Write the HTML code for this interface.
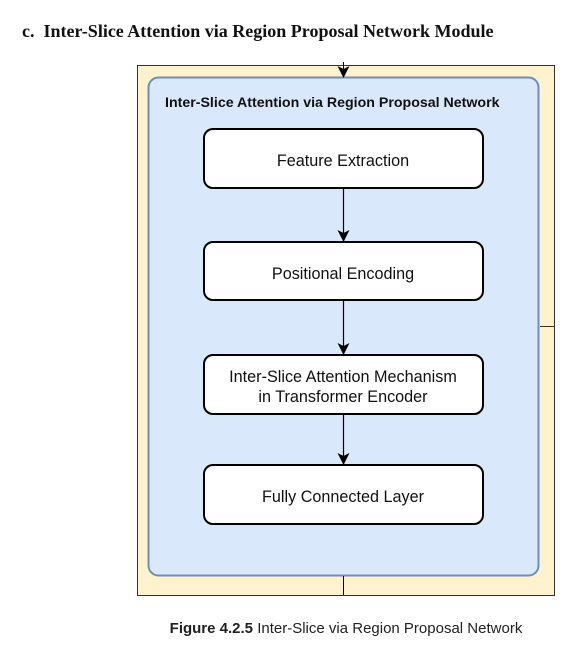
<!DOCTYPE html>
<html><head><style>
body{margin:0;background:#fff;width:588px;height:654px;position:relative;overflow:hidden;font-family:"Liberation Sans",sans-serif}
.t{position:absolute;left:22px;top:21px;font-family:"Liberation Serif",serif;font-weight:bold;font-size:18px;color:#111;white-space:nowrap}
.cap{position:absolute;left:0;width:692px;text-align:center;top:620px;font-size:15px;color:#222;white-space:nowrap}
</style></head><body>
<div class="t">c.&nbsp; Inter-Slice Attention via Region Proposal Network Module</div>
<svg width="588" height="654" style="position:absolute;left:0;top:0" font-family="Liberation Sans, sans-serif">
<defs><marker id="a" markerWidth="12" markerHeight="12" refX="11" refY="6" orient="auto" markerUnits="userSpaceOnUse"><path d="M0,0 L12,6 L0,12 L3,6z" fill="#000"/></marker></defs>
<rect x="137.5" y="65.5" width="417" height="530" fill="#fff2cc" stroke="#333" stroke-width="1"/>
<line x1="540" y1="326.5" x2="555" y2="326.5" stroke="#333"/>
<rect x="148.5" y="77.5" width="390" height="498" rx="10" fill="#dae8fc" stroke="#6c8ebf" stroke-width="2"/>
<line x1="343.5" y1="576" x2="343.5" y2="595" stroke="#000"/>
<line x1="343.5" y1="62" x2="343.5" y2="77" stroke="#000" marker-end="url(#a)"/>
<text x="165" y="107" font-size="14.2" font-weight="bold" fill="#111">Inter-Slice Attention via Region Proposal Network</text>
<g fill="#fff" stroke="#000" stroke-width="2">
<rect x="204" y="129" width="279" height="59" rx="9"/>
<rect x="204" y="242" width="279" height="58" rx="9"/>
<rect x="204" y="355" width="279" height="59" rx="9"/>
<rect x="204" y="465" width="279" height="59" rx="9"/>
</g>
<g stroke="#000" stroke-width="1.2">
<line x1="343.5" y1="189" x2="343.5" y2="241" marker-end="url(#a)"/>
<line x1="343.5" y1="301" x2="343.5" y2="354" marker-end="url(#a)"/>
<line x1="343.5" y1="415" x2="343.5" y2="464" marker-end="url(#a)"/>
</g>
<g font-size="16.2" fill="#111" text-anchor="middle">
<text x="343" y="166">Feature Extraction</text>
<text x="343" y="279">Positional Encoding</text>
<text x="343" y="382">Inter-Slice Attention Mechanism</text>
<text x="343" y="402">in Transformer Encoder</text>
<text x="343" y="502">Fully Connected Layer</text>
</g>
</svg>
<div class="cap"><b>Figure 4.2.5</b> Inter-Slice via Region Proposal Network</div>
</body></html>
